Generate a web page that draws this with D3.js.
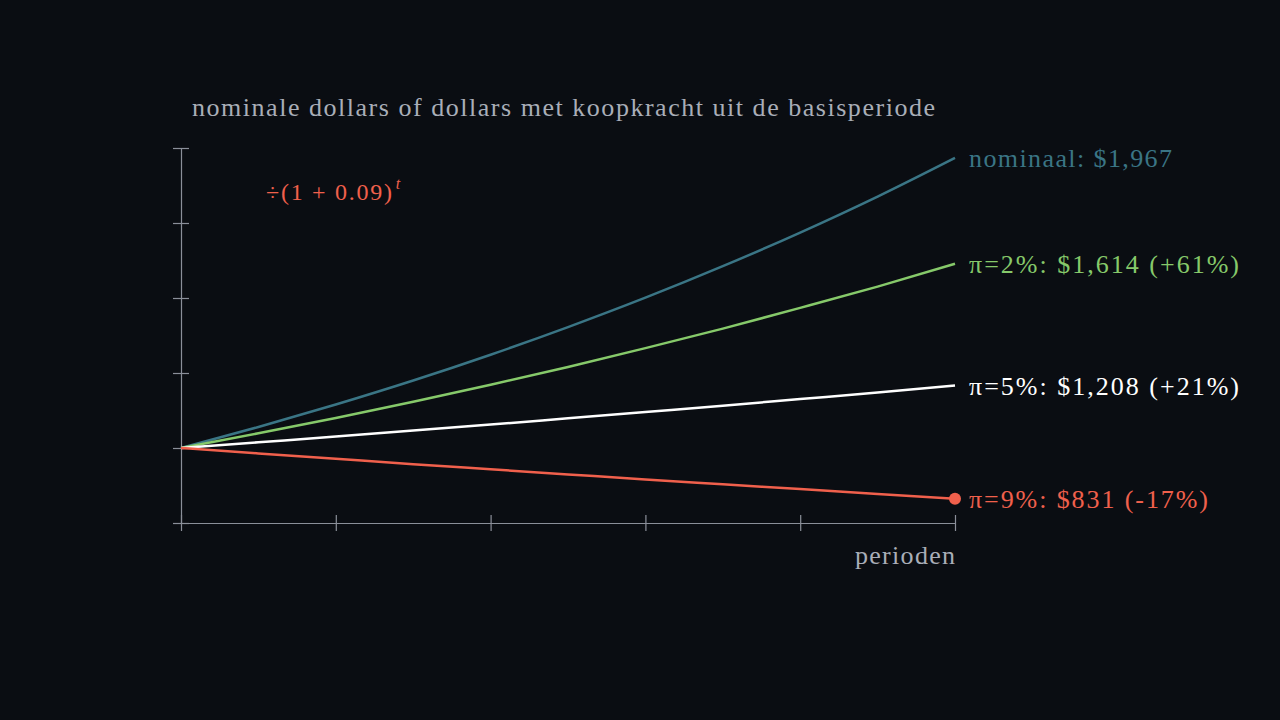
<!DOCTYPE html>
<html><head><meta charset="utf-8">
<script src="https://cdn.jsdelivr.net/npm/d3@7"></script>
<style>html,body{margin:0;background:#0a0d12;}</style></head>
<body><svg id="c" width="1280" height="720"></svg>
<script>
const periods = [0,1,2,3,4,5,6,7,8,9,10];
const nominal = [1000,1070,1145,1225,1311,1403,1501,1606,1718,1838,1967];
const pi2 = [1000,1049,1100,1154,1211,1270,1333,1398,1467,1538,1614];
const pi5 = [1000,1019,1038,1058,1078,1099,1120,1141,1163,1185,1208];
const pi9 = [1000,982,964,946,929,912,895,879,863,847,831];
const xTicks = [0,2,4,6,8,10];
const yTicks = [750,1000,1250,1500,1750,2000];
const labels = ["nominaal: $1,967","π=2%: $1,614 (+61%)","π=5%: $1,208 (+21%)","π=9%: $831 (-17%)"];
const labelWidths = [203,270,270,239];
const colors = ["#3a7585","#86c96a","#ffffff","#f0604c"];

const svg = d3.select("#c");
const font = "'Liberation Serif', 'DejaVu Serif', serif";
const x = d3.scaleLinear().domain([0,10]).range([181,955]);
const y = d3.scaleLinear().domain([750,2000]).range([523,148]);
const axc = "#8a8f99";

const xa = svg.append("g").attr("transform","translate(0,523)")
  .call(d3.axisBottom(x).tickValues(xTicks).tickSizeOuter(0).tickFormat(""));
xa.selectAll(".tick line").attr("y1",-8).attr("y2",8);
const ya = svg.append("g").attr("transform","translate(181,0)")
  .call(d3.axisLeft(y).tickValues(yTicks).tickSizeOuter(0).tickFormat(""));
ya.selectAll(".tick line").attr("x1",8).attr("x2",-8);
svg.selectAll(".domain, .tick line").attr("stroke",axc).attr("stroke-width",1.2);

const series = [nominal,pi2,pi5,pi9];
const line = d3.line().x((d,i)=>x(periods[i])).y(d=>y(d)).curve(d3.curveMonotoneX);
series.forEach((s,k)=>{
  svg.append("path").datum(s).attr("d",line).attr("fill","none")
    .attr("stroke",colors[k]).attr("stroke-width",2.5);
  svg.append("text").attr("x",969).attr("y",y(s[10])).attr("dy","0.35em")
    .attr("fill",colors[k]).attr("font-family",font).attr("font-size",26)
    .attr("textLength",labelWidths[k]).attr("lengthAdjust","spacing").text(labels[k]);
});
svg.append("circle").attr("cx",x(10)).attr("cy",y(pi9[10])).attr("r",6).attr("fill",colors[3]);

svg.append("text").attr("x",192).attr("y",116).attr("fill","#a9aeb8")
  .attr("font-family",font).attr("font-size",26).attr("textLength",743).attr("lengthAdjust","spacing")
  .text("nominale dollars of dollars met koopkracht uit de basisperiode");
svg.append("text").attr("x",855).attr("y",564).attr("fill","#a9aeb8")
  .attr("font-family",font).attr("font-size",26).attr("textLength",100).attr("lengthAdjust","spacing").text("perioden");
const ann = svg.append("text").attr("x",266).attr("y",200).attr("fill",colors[3])
  .attr("font-family",font).attr("font-size",24);
ann.append("tspan").attr("textLength",126).attr("lengthAdjust","spacing").text("÷(1 + 0.09)");
ann.append("tspan").attr("dy",-11).attr("dx",2).attr("font-size",16).attr("font-style","italic").text("t");
</script></body></html>
